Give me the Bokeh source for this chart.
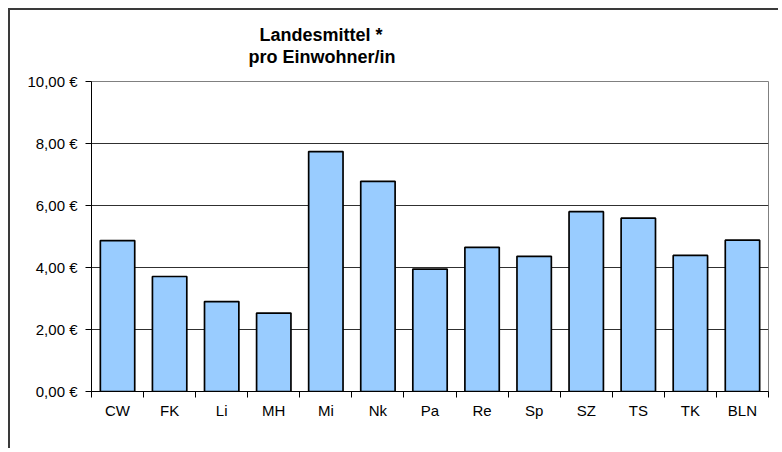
from bokeh.plotting import figure
from bokeh.models import Range1d, FixedTicker, LinearAxis, Title, ColumnDataSource, Grid
from bokeh.embed import file_html
from bokeh.resources import INLINE

categories = ["CW", "FK", "Li", "MH", "Mi", "Nk", "Pa", "Re", "Sp", "SZ", "TS", "TK", "BLN"]
values = [4.87, 3.71, 2.90, 2.53, 7.74, 6.78, 3.95, 4.65, 4.36, 5.80, 5.59, 4.39, 4.88]
y_ticks = [0, 2, 4, 6, 8, 10]
y_tick_labels = ["0,00 €", "2,00 €", "4,00 €", "6,00 €", "8,00 €", "10,00 €"]
title_lines = ["Landesmittel *", "pro Einwohner/in"]

FONT = "Liberation Sans"

x_pos = [i + 0.5 for i in range(len(categories))]
src = ColumnDataSource(dict(x=x_pos, top=values, cat=categories))

p = figure(width=770, height=440, output_backend="svg", toolbar_location=None,
           x_range=Range1d(0, len(categories)), y_range=Range1d(0, 10),
           x_axis_type=None, y_axis_type=None,
           min_border_left=81, min_border_right=12, min_border_top=71, min_border_bottom=59)
p.margin = (8, 0, 0, 8)
p.styles = {"border-left": "2px solid #3a3a3a", "border-top": "2px solid #3a3a3a"}
p.background_fill_color = "white"
p.border_fill_color = "white"
p.outline_line_color = "#808080"
p.outline_line_width = 1

p.vbar(x="x", top="top", width=0.66, source=src, fill_color="#99CCFF",
       line_color="black", line_width=1.7)

# y axis
yaxis = LinearAxis(ticker=FixedTicker(ticks=y_ticks, minor_ticks=[]),
                   major_label_overrides={t: l for t, l in zip(y_ticks, y_tick_labels)})
yaxis.axis_line_color = "black"
yaxis.major_tick_line_color = "black"
yaxis.major_tick_out = 6
yaxis.major_tick_in = 0
yaxis.major_label_standoff = 8
yaxis.major_label_text_font = FONT
yaxis.major_label_text_font_size = "15px"
yaxis.major_label_text_color = "black"
p.add_layout(yaxis, "left")

# x axis: labels at category centres, tick marks at category boundaries
xaxis = LinearAxis(ticker=FixedTicker(ticks=x_pos, minor_ticks=list(range(len(categories) + 1))),
                   major_label_overrides={x: c for x, c in zip(x_pos, categories)})
xaxis.axis_line_color = "black"
xaxis.major_tick_line_color = None
xaxis.major_tick_out = 0
xaxis.major_tick_in = 0
xaxis.minor_tick_line_color = "black"
xaxis.minor_tick_out = 6
xaxis.minor_tick_in = 0
xaxis.major_label_standoff = 4
xaxis.major_label_text_font = FONT
xaxis.major_label_text_font_size = "15px"
xaxis.major_label_text_color = "black"
p.add_layout(xaxis, "below")

g = Grid(dimension=1, ticker=yaxis.ticker, grid_line_color="#303030", grid_line_width=1)
p.add_layout(g)

# spacer between frame and title, then the two title lines
spacer = Title(text=" ", text_font_size="1px", standoff=12)
t2 = Title(text=title_lines[1], align="left", offset=157, text_font=FONT,
           text_font_size="18px", text_font_style="bold", text_color="black", standoff=0)
t1 = Title(text=title_lines[0], align="left", offset=168, text_font=FONT,
           text_font_size="18px", text_font_style="bold", text_color="black", standoff=0)
p.add_layout(spacer, "above")
p.add_layout(t2, "above")
p.add_layout(t1, "above")

open("out.html", "w").write(file_html(p, INLINE))
